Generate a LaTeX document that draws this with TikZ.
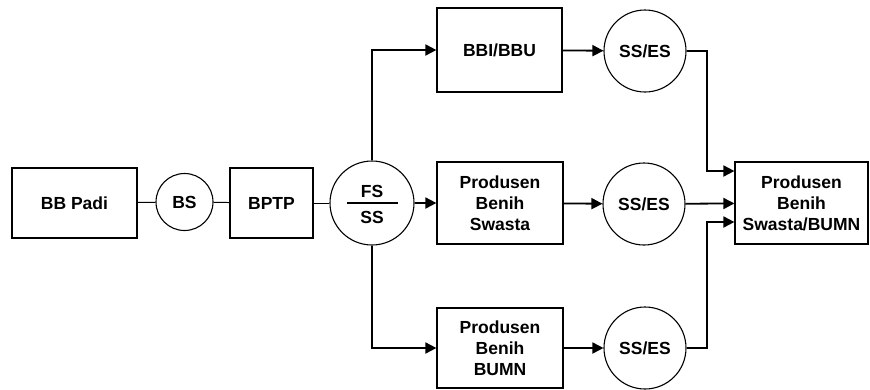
\documentclass[tikz,border=0pt]{standalone}
\usepackage{fontspec}
\setmainfont{Liberation Sans}
\usetikzlibrary{arrows.meta}

\begin{document}
\begin{tikzpicture}[x=1pt,y=-1pt,
  kotak/.style={draw,line width=1.2pt,align=center,inner sep=0pt,
    font=\fontsize{17.5}{21}\selectfont\bfseries},
  bulat/.style={draw,circle,line width=1.1pt,inner sep=0pt,minimum size=82pt,
    font=\fontsize{17.5}{21}\selectfont\bfseries},
  teks/.style={inner sep=0pt,font=\fontsize{17.5}{21}\selectfont\bfseries},
  panah/.style={line width=1.8pt,-{Triangle[length=11pt,width=11pt]}},
  garis/.style={line width=1pt}]
\useasboundingbox (0,0) rectangle (870,389);

% The first row
\node[kotak,minimum width=125pt,minimum height=70pt] (padi) at (74.5,203) {BB Padi};
\node[bulat,minimum size=57pt] (bs) at (184.5,202) {BS};
\node[kotak,minimum width=83pt,minimum height=70pt] (bptp) at (271.5,203) {BPTP};
\node[bulat,minimum size=84pt] (fsss) at (372,203) {};
\node[teks] (fs) at (372,191) {FS};
\node[teks] (ss) at (372,217) {SS};
\draw[line width=1.2pt] ([xshift=-25pt]fsss.center) -- ([xshift=26pt]fsss.center);

% The three producers
\node[kotak,minimum width=125pt,minimum height=84pt] (bbi) at (499.5,50) {BBI/BBU};
\node[kotak,minimum width=126pt,minimum height=82pt] (swasta) at (500,203) {Produsen\\Benih\\Swasta};
\node[kotak,minimum width=126pt,minimum height=80pt] (bumn) at (500,348) {Produsen\\Benih\\BUMN};

% The SS/ES circles
\node[bulat] (ssesA) at (645,51) {SS/ES};
\node[bulat] (ssesB) at (644,204) {SS/ES};
\node[bulat] (ssesC) at (645,348) {SS/ES};

% The last box
\node[kotak,minimum width=133pt,minimum height=82pt] (akhir) at (801.5,203) {Produsen\\Benih\\Swasta/BUMN};

% Plain lines
\draw[garis] (padi) -- (bs);
\draw[garis] (bs) -- (bptp);
\draw[garis] (bptp) -- (fsss);

% Arrows
\draw[panah] (fsss) -- (swasta);
\draw[panah] (fsss.north) |- (bbi);
\draw[panah] (fsss.south) |- (bumn);
\draw[panah] (bbi) -- (ssesA);
\draw[panah] (swasta) -- (ssesB);
\draw[panah] (bumn) -- (ssesC);
\draw[panah] (ssesB) -- (akhir);
\coordinate (belokA) at (707,171);
\coordinate (belokC) at (707,222);
\draw[panah] (ssesA.east) -| (belokA) -- (akhir.west |- belokA);
\draw[panah] (ssesC.east) -| (belokC) -- (akhir.west |- belokC);
\end{tikzpicture}
\end{document}
